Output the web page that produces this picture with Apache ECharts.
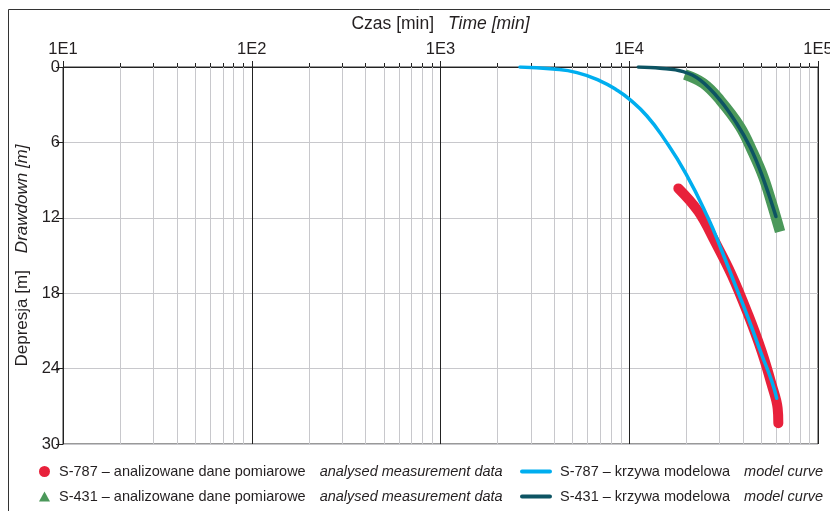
<!DOCTYPE html>
<html><head><meta charset="utf-8">
<script src="https://cdn.jsdelivr.net/npm/echarts@6/dist/echarts.min.js"></script>
<style>html,body{margin:0;padding:0;background:#fff}#c{width:830px;height:511px}</style>
</head><body><div id="c"></div>
<script>
// ---- data ----
const xTickValues = [10, 100, 1000, 10000, 100000];
const xMinorValues = [20,30,40,50,60,70,80,90, 200,300,400,500,600,700,800,900,
  2000,3000,4000,5000,6000,7000,8000,9000, 20000,30000,40000,50000,60000,70000,80000,90000];
const yTickValues = [0, 6, 12, 18, 24, 30];

const seriesNames = ['S-787 – analizowane dane pomiarowe', 'S-787 – krzywa modelowa',
  'S-431 – analizowane dane pomiarowe', 'S-431 – krzywa modelowa'];
const seriesNamesEn = ['analysed measurement data', 'model curve', 'analysed measurement data', 'model curve'];

const s787DataTime  = [18200, 23230, 28450, 34890, 42730, 50350, 56890, 61130, 61630];
const s787DataDepth = [9.66, 11.5, 13.9, 16.55, 19.73, 22.65, 25.3, 27.16, 28.35];

const s787ModelTime  = [2638, 3945, 5285, 6998, 8610, 10080, 12410, 15280, 19980, 26130, 30880, 36320, 42730, 50350, 56890, 60430];
const s787ModelDepth = [0, 0.16, 0.45, 1.1, 1.85, 2.6, 3.9, 5.7, 8.5, 12.0, 14.6, 17.3, 20.0, 22.9, 25.0, 26.36];

const s431DataTime  = [19700, 24660, 30270, 38630, 45400, 51290, 56890, 62930];
const s431DataDepth = [0.6, 1.3, 2.63, 4.75, 6.87, 8.73, 10.85, 13.1];

const s431ModelTime  = [11170, 14560, 19320, 23700, 30270, 37090, 43600, 49300, 54570, 59870];
const s431ModelDepth = [0, 0.1, 0.37, 1.03, 2.63, 4.5, 6.35, 8.2, 10.05, 11.9];

// ---- style ----
const FF = "'Liberation Sans', Arial, Helvetica, sans-serif";
const TXT = '#231f20';
const colors = ['#e8213b', '#00aeef', '#4b985a', '#0d5463'];
const zip = (a, b) => a.map((v, i) => [v, b[i]]);

const chart = echarts.init(document.getElementById('c'), null, {renderer: 'canvas'});

function legendFor(i, left, top, icon, iw, ih, pad, gap) {
  const item = {name: seriesNames[i]};
  if (icon) item.icon = icon;
  return {
    left: left, top: top, orient: 'horizontal', selectedMode: false, padding: 0,
    data: [item],
    itemWidth: iw, itemHeight: ih,
    lineStyle: {width: 4, cap: 'round'},
    formatter: n => '{a|' + n + '}{b|' + seriesNamesEn[i] + '}',
    textStyle: {
      fontFamily: FF, fontSize: 14.5, color: TXT, padding: [0, 0, 0, pad],
      rich: {
        a: {fontFamily: FF, fontSize: 14.5, color: TXT},
        b: {fontFamily: FF, fontSize: 14.5, color: TXT, fontStyle: 'italic', padding: [0, 0, 0, gap]}
      }
    }
  };
}

const option = {
  animation: false,
  backgroundColor: '#fff',
  graphic: [{
    type: 'rect', silent: true, z: -10,
    shape: {x: 8.5, y: 9.5, width: 1000, height: 1000},
    style: {fill: 'none', stroke: '#333', lineWidth: 1}
  }],
  grid: {left: 63, right: 12, top: 67, bottom: 67, show: true, borderColor: '#333', borderWidth: 1,
    outerBoundsMode: 'none', containLabel: false},
  legend: [
    legendFor(0, 39, 464, 'circle', 11, 11, 4, 14),
    legendFor(1, 520, 464, null, 28, 4, 5, 14),
    legendFor(2, 39, 489, 'triangle', 11, 10, 4, 14),
    legendFor(3, 520, 489, null, 28, 4, 5, 14)
  ],
  xAxis: {
    type: 'log', logBase: 10, min: 10, max: 100000, position: 'top',
    name: '{a|Czas [min]}{b|Time [min]}', nameLocation: 'middle', nameGap: 34,
    nameTextStyle: {
      rich: {
        a: {fontFamily: FF, fontSize: 17.5, color: TXT},
        b: {fontFamily: FF, fontSize: 17.5, color: TXT, fontStyle: 'italic', padding: [0, 0, 0, 14]}
      }
    },
    axisLine: {show: true, lineStyle: {color: '#222', width: 1}},
    axisTick: {show: true, length: 6, lineStyle: {color: '#222'}},
    axisLabel: {fontFamily: FF, fontSize: 16.5, color: TXT, margin: 9,
      formatter: v => '1E' + Math.round(Math.log10(v))},
    splitLine: {show: true, lineStyle: {color: '#222', width: 1}}
  },
  yAxis: {
    type: 'value', inverse: true, min: 0, max: 30, interval: 6,
    name: '{a|Depresja [m]}{b|Drawdown [m]}', nameLocation: 'middle', nameGap: 32, nameRotate: 90,
    nameTextStyle: {
      rich: {
        a: {fontFamily: FF, fontSize: 17, color: TXT},
        b: {fontFamily: FF, fontSize: 17, color: TXT, fontStyle: 'italic', padding: [0, 0, 0, 17]}
      }
    },
    axisLine: {show: true, lineStyle: {color: '#222', width: 1}},
    axisTick: {show: true, length: 7, lineStyle: {color: '#222'}},
    axisLabel: {fontFamily: FF, fontSize: 16.5, color: TXT, margin: 3,
      formatter: v => yTickValues.indexOf(v) >= 0 ? String(v) : ''},
    splitLine: {show: true, lineStyle: {color: '#c8c8cc', width: 1}}
  },
  series: [
    {
      type: 'custom', name: 'minor', silent: true, clip: false, z: 1,
      data: xMinorValues.map(v => [v, 0]), encode: {x: 0, y: 1},
      renderItem: (params, api) => {
        const v = api.value(0);
        const a = api.coord([v, 0]), b = api.coord([v, 30]);
        const x = Math.round(a[0]) + 0.5;
        return {type: 'group', children: [
          {type: 'line', shape: {x1: x, y1: a[1], x2: x, y2: b[1]}, style: {stroke: '#c8c8cc', lineWidth: 1}},
          {type: 'line', shape: {x1: x, y1: a[1] - 4, x2: x, y2: a[1]}, style: {stroke: '#222', lineWidth: 1}}
        ]};
      }
    },
    {
      name: seriesNames[0], type: 'line', smooth: 0.4, symbol: 'circle', showSymbol: false, z: 3, color: colors[0],
      data: zip(s787DataTime, s787DataDepth),
      lineStyle: {color: colors[0], width: 10, cap: 'round', join: 'round'}
    },
    {
      name: seriesNames[2], type: 'line', smooth: 0.4, symbol: 'triangle', showSymbol: false, z: 3, color: colors[2],
      data: zip(s431DataTime, s431DataDepth),
      lineStyle: {color: colors[2], width: 10.5, cap: 'butt', join: 'round'}
    },
    {
      name: seriesNames[1], type: 'line', smooth: 0.5, symbol: 'none', z: 4, color: colors[1],
      data: zip(s787ModelTime, s787ModelDepth),
      lineStyle: {color: colors[1], width: 3.5, cap: 'round'}
    },
    {
      name: seriesNames[3], type: 'line', smooth: 0.4, symbol: 'none', z: 4, color: colors[3],
      data: zip(s431ModelTime, s431ModelDepth),
      lineStyle: {color: colors[3], width: 3.5, cap: 'round'}
    }
  ]
};
chart.setOption(option);
</script>
</body></html>
